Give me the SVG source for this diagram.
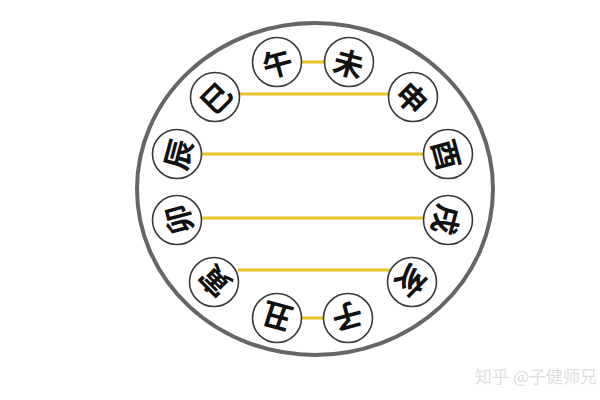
<svg xmlns="http://www.w3.org/2000/svg" width="600" height="400" viewBox="0 0 600 400">
<style>
.n circle{fill:#fff;stroke:#3a3a3a;stroke-width:1.6}
.n text{font-family:"Noto Sans CJK SC","Noto Sans CJK TC",sans-serif;font-size:30px;font-weight:bold;fill:#111;text-anchor:middle;dominant-baseline:central}
#links line{stroke:#e6c42a;stroke-width:3.2}
</style>
<rect width="600" height="400" fill="#fff"/>
<ellipse cx="315" cy="189" rx="178" ry="166" fill="none" stroke="#666" stroke-width="4"/>
<g id="links">
<line x1="300" y1="62" x2="326" y2="62"/>
<line x1="238" y1="94" x2="390" y2="94"/>
<line x1="200" y1="154" x2="425" y2="154"/>
<line x1="200" y1="218" x2="425" y2="218"/>
<line x1="238" y1="270" x2="390" y2="270"/>
<line x1="300" y1="318" x2="326" y2="318"/>
</g>
<g id="wu" class="n" transform="translate(277,62)"><circle r="24.5"/><text transform="rotate(-15)">午</text></g>
<g id="wei" class="n" transform="translate(349,62)"><circle r="24.5"/><text transform="rotate(15)">未</text></g>
<g id="shen" class="n" transform="translate(413,97)"><circle r="24.5"/><text transform="rotate(45)">申</text></g>
<g id="you" class="n" transform="translate(448,154)"><circle r="24.5"/><text transform="rotate(75)">酉</text></g>
<g id="xu" class="n" transform="translate(448,220)"><circle r="24.5"/><text transform="rotate(105)">戌</text></g>
<g id="hai" class="n" transform="translate(412,282)"><circle r="24.5"/><text transform="rotate(135)">亥</text></g>
<g id="zi" class="n" transform="translate(348,318)"><circle r="24.5"/><text transform="rotate(165)">子</text></g>
<g id="chou" class="n" transform="translate(277,318)"><circle r="24.5"/><text transform="rotate(195)">丑</text></g>
<g id="yin" class="n" transform="translate(214,282)"><circle r="24.5"/><text transform="rotate(225)">寅</text></g>
<g id="mao" class="n" transform="translate(177,220)"><circle r="24.5"/><text transform="rotate(255)">卯</text></g>
<g id="chen" class="n" transform="translate(177,154)"><circle r="24.5"/><text transform="rotate(285)">辰</text></g>
<g id="si" class="n" transform="translate(215,97)"><circle r="24.5"/><text transform="rotate(315)">巳</text></g>
<text x="597" y="383" text-anchor="end" font-family="Noto Sans CJK SC, sans-serif" font-size="17" fill="#dedede">知乎 @子健师兄</text>
</svg>
